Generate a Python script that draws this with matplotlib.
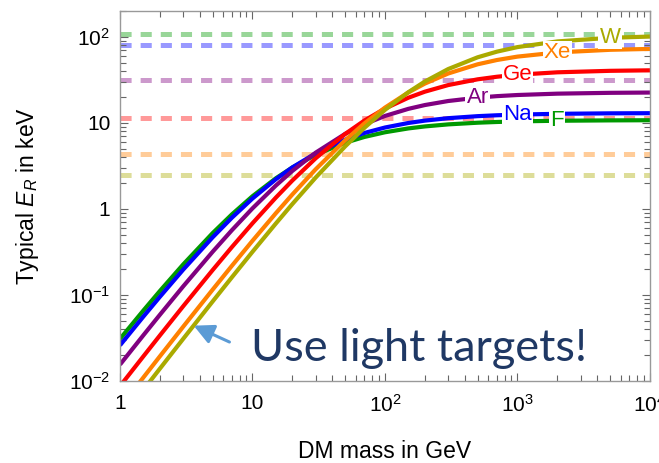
import matplotlib
matplotlib.use("Agg")
import matplotlib.pyplot as plt
from matplotlib.ticker import FixedLocator, FixedFormatter, LogLocator, NullFormatter

plt.rcParams['font.family'] = ['Liberation Sans', 'DejaVu Sans']
plt.rcParams['mathtext.fontset'] = 'custom'
plt.rcParams['mathtext.rm'] = 'Liberation Sans'
plt.rcParams['mathtext.it'] = 'Liberation Sans:italic'
plt.rcParams['mathtext.bf'] = 'Liberation Sans:bold'
plt.rcParams['lines.scale_dashes'] = False

# Dark-matter mass grid (GeV)
dm_mass = [1, 1.5, 2, 3, 5, 7, 10, 15, 20, 30, 50, 70, 100, 150, 200, 300,
           500, 700, 1000, 2000, 5000, 10000]

# Typical nuclear recoil energy (keV) for each target
recoil_F = [0.0309, 0.0659, 0.1113, 0.2268, 0.524, 0.867, 1.408, 2.273, 3.040,
            4.272, 5.891, 6.880, 7.796, 8.641, 9.115, 9.630, 10.07, 10.27,
            10.43, 10.61, 10.72, 10.76]
recoil_Na = [0.0260, 0.0560, 0.0953, 0.1973, 0.468, 0.793, 1.324, 2.216, 3.046,
             4.446, 6.400, 7.654, 8.855, 9.995, 10.65, 11.37, 12.00, 12.29,
             12.51, 12.78, 12.94, 12.99]
recoil_Ar = [0.01551, 0.0340, 0.0589, 0.1261, 0.3179, 0.568, 1.017, 1.871, 2.772,
             4.521, 7.463, 9.682, 12.07, 14.59, 16.16, 18.00, 19.70, 20.51,
             21.14, 21.92, 22.41, 22.58]
recoil_Ge = [0.00872, 0.01933, 0.03388, 0.07409, 0.1947, 0.3615, 0.6821, 1.3554,
             2.144, 3.889, 7.451, 10.68, 14.70, 19.65, 23.11, 27.58, 32.16,
             34.48, 36.38, 38.82, 40.39, 40.94]
recoil_Xe = [0.004918, 0.010976, 0.01936, 0.04285, 0.1153, 0.2191, 0.4270,
             0.8919, 1.476, 2.898, 6.287, 9.889, 15.10, 22.63, 28.70, 37.60,
             48.08, 53.95, 59.10, 66.09, 70.90, 72.62]
recoil_W = [0.003519, 0.007873, 0.013915, 0.03095, 0.08404, 0.16104, 0.3179,
            0.6774, 1.142, 2.321, 5.335, 8.795, 14.20, 22.78, 30.33, 42.36,
            58.01, 67.50, 76.23, 88.74, 97.78, 101.1]

targets = ['F', 'Na', 'Ar', 'Ge', 'Xe', 'W']
recoils = [recoil_F, recoil_Na, recoil_Ar, recoil_Ge, recoil_Xe, recoil_W]
colors = ['#009900', '#0000FF', '#800080', '#FF0000', '#FF8000', '#AAAA00']
# Mass at which each target name sits on its curve
label_mass = [2000, 1000, 500, 1000, 2000, 5000]

# Horizontal reference levels (keV), one per colour, top to bottom
level_values = [109, 80, 31.6, 11.3, 4.3, 2.5]
level_colors = ['#009900', '#0000FF', '#800080', '#FF0000', '#FF8000', '#AAAA00']

x_ticks = [1, 10, 100, 1000, 10000]
x_ticklabels = ['1', '10', '$10^{2}$', '$10^{3}$', '$10^{4}$']
y_ticks = [0.01, 0.1, 1, 10, 100]
y_ticklabels = ['$10^{-2}$', '$10^{-1}$', '1', '10', '$10^{2}$']

fig = plt.figure(figsize=(6.59, 4.63), dpi=100)
ax = fig.add_axes([0.1821, 0.1771, 0.8042, 0.7998])
ax.set_xscale('log')
ax.set_yscale('log')
ax.set_xlim(1, 1e4)
ax.set_ylim(0.01, 202)

for val, col in zip(level_values, level_colors):
    ax.axhline(val, color=col, alpha=0.4, lw=3.6, dashes=(8, 6.5),
               solid_capstyle='butt', dash_capstyle='butt', zorder=1)

for name, rec, col, lm in zip(targets, recoils, colors, label_mass):
    ax.plot(dm_mass, rec, color=col, lw=3.0, solid_capstyle='butt', zorder=2)
    ax.text(lm, rec[dm_mass.index(lm)], name, color=col, fontsize=16,
            ha='center', va='center', zorder=3,
            bbox=dict(boxstyle='square,pad=0.05', fc='white', ec='none'))

ax.annotate('', xy=(3.6, 0.044), xytext=(6.7, 0.0284),
            arrowprops=dict(arrowstyle='-|>,head_length=0.6,head_width=0.3',
                            color='#5B9BD5', lw=2.2, mutation_scale=20,
                            shrinkA=0, shrinkB=0), zorder=4)
ax.text(181, 0.0172, 'Use light targets!', fontsize=32.5, color='#1F3864',
        family='Lato', ha='center', va='baseline', zorder=4)

ax.xaxis.set_major_locator(FixedLocator(x_ticks))
ax.xaxis.set_major_formatter(FixedFormatter(x_ticklabels))
ax.yaxis.set_major_locator(FixedLocator(y_ticks))
ax.yaxis.set_major_formatter(FixedFormatter(y_ticklabels))
ax.xaxis.set_minor_locator(LogLocator(base=10, subs=range(2, 10), numticks=20))
ax.yaxis.set_minor_locator(LogLocator(base=10, subs=range(2, 10), numticks=20))
ax.xaxis.set_minor_formatter(NullFormatter())
ax.yaxis.set_minor_formatter(NullFormatter())

ax.tick_params(which='both', direction='in', top=True, right=True,
               color='#666666', width=0.8)
ax.tick_params(which='major', length=6)
ax.tick_params(which='minor', length=4.5)
ax.tick_params(axis='both', which='major', labelsize=15, pad=7)
ax.tick_params(axis='x', which='major', pad=9)
for sp in ax.spines.values():
    sp.set_color('#999999')
    sp.set_linewidth(1.0)

ax.set_xlabel('DM mass in GeV', fontsize=16.5)
ax.set_ylabel('Typical $E_R$ in keV', fontsize=16.5)
ax.xaxis.set_label_coords(0.5, -0.158)
ax.yaxis.set_label_coords(-0.15, 0.5)

fig.savefig('out.png', dpi=100)
